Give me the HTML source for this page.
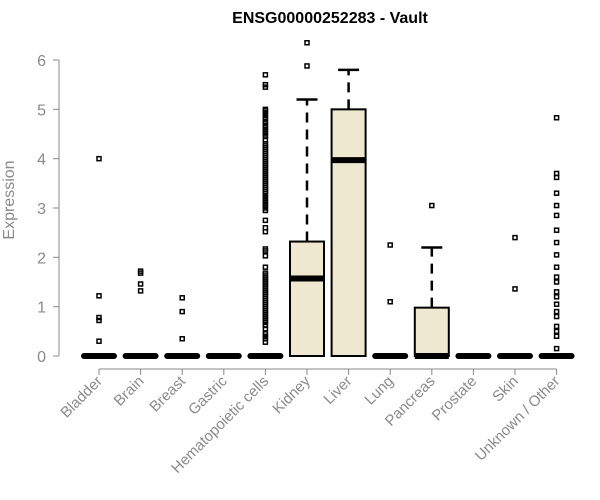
<!DOCTYPE html>
<html><head><meta charset="utf-8"><style>
body{margin:0;background:#fff}
svg{display:block;font-family:"Liberation Sans",Arial,sans-serif}
</style></head><body>
<svg id="c" width="600" height="500">
<text x="330" y="23" text-anchor="middle" font-weight="bold" font-size="16">ENSG00000252283 - Vault</text>
<text transform="translate(14,200) rotate(-90)" text-anchor="middle" font-size="16" fill="#8a8a8a">Expression</text>
</svg>
<script>
const categories=["Bladder","Brain","Breast","Gastric","Hematopoietic cells","Kidney","Liver","Lung","Pancreas","Prostate","Skin","Unknown / Other"];
const q1=[0,0,0,0,0,0,0,0,0,0,0,0];
const medians=[0,0,0,0,0,1.57,3.97,0,0,0,0,0];
const q3=[0,0,0,0,0,2.32,5.0,0,0.98,0,0,0];
const whiskerHi=[0,0,0,0,0,5.2,5.8,0,2.2,0,0,0];
const outliers=[
[4.0,1.22,0.78,0.72,0.3],
[1.72,1.68,1.46,1.32],
[1.18,0.9,0.35],
[],
[5.7,5.5,5.45,5.0,4.97,4.93,4.88,4.82,4.76,4.72,4.66,4.6,4.55,4.5,4.45,4.38,4.3,4.26,4.22,4.18,4.14,4.1,4.06,4.02,3.98,3.94,3.9,3.86,3.82,3.78,3.74,3.7,3.66,3.62,3.58,3.54,3.5,3.46,3.42,3.38,3.34,3.3,3.25,3.2,3.15,3.1,3.05,3.0,2.95,2.75,2.6,2.52,2.17,2.13,2.03,1.8,1.68,1.64,1.6,1.56,1.52,1.48,1.44,1.4,1.36,1.32,1.28,1.24,1.2,1.16,1.12,1.08,1.04,1.0,0.96,0.92,0.88,0.84,0.8,0.76,0.72,0.68,0.62,0.55,0.45,0.4,0.35,0.28],
[6.35,5.88],
[],
[2.25,1.1],
[3.05],
[],
[2.4,1.36],
[4.83,3.7,3.62,3.3,3.05,2.85,2.55,2.3,2.05,1.8,1.6,1.5,1.3,1.2,1.05,0.9,0.8,0.6,0.5,0.4,0.15]
];
const yTicks=[0,1,2,3,4,5,6];
const NS="http://www.w3.org/2000/svg",svg=document.getElementById("c");
const y=v=>356-v*49.33, x=i=>99+i*41.6, bw=34;
function mk(t,a,p){const e=document.createElementNS(NS,t);for(const k in a)e.setAttribute(k,a[k]);(p||svg).appendChild(e);return e;}
let ya=mk("line",{x1:59,x2:59,y1:y(0),y2:y(6),stroke:"#888"});


yTicks.forEach(t=>{
 mk("line",{x1:53,x2:59,y1:y(t),y2:y(t),stroke:"#888"});
 const tx=mk("text",{x:46,y:y(t)+6,"text-anchor":"end","font-size":16,fill:"#8a8a8a"});
 tx.textContent=t;
 
 
});
let xa=mk("line",{x1:x(0),x2:x(11),y1:369,y2:369,stroke:"#888"});


categories.forEach((c,i)=>{
 const cx=x(i);
 mk("line",{x1:cx,x2:cx,y1:369,y2:375,stroke:"#888"});
 const tx=mk("text",{transform:`translate(${cx+4},${382}) rotate(-45)`,"text-anchor":"end","font-size":15,fill:"#8a8a8a"});
 tx.textContent=c;
 
 
 const g=mk("g",{});
 
 
 if(whiskerHi[i]>q3[i]){
  mk("line",{x1:cx,x2:cx,y1:y(q3[i]),y2:y(whiskerHi[i]),stroke:"#000","stroke-width":2.5,"stroke-dasharray":"10,7"},g);
  mk("line",{x1:cx-bw/4-2,x2:cx+bw/4+2,y1:y(whiskerHi[i]),y2:y(whiskerHi[i]),stroke:"#000","stroke-width":2.5},g);
 }
 if(q3[i]>q1[i]) mk("rect",{x:cx-bw/2,y:y(q3[i]),width:bw,height:y(q1[i])-y(q3[i]),fill:"#eee8d0",stroke:"#000","stroke-width":2},g);
 const flat=q3[i]<=q1[i];
 mk("line",{x1:cx-bw/2+(flat?2:0),x2:cx+bw/2-(flat?2:0),y1:y(medians[i]),y2:y(medians[i]),stroke:"#000","stroke-width":6,"stroke-linecap":flat?"round":"butt"},g);
 outliers[i].forEach(v=>{
  const p=mk("rect",{x:cx-2,y:y(v)-2,width:4,height:4,fill:"none",stroke:"#000","stroke-width":1.5},g);
  
  
 });
});
</script>
</body></html>
